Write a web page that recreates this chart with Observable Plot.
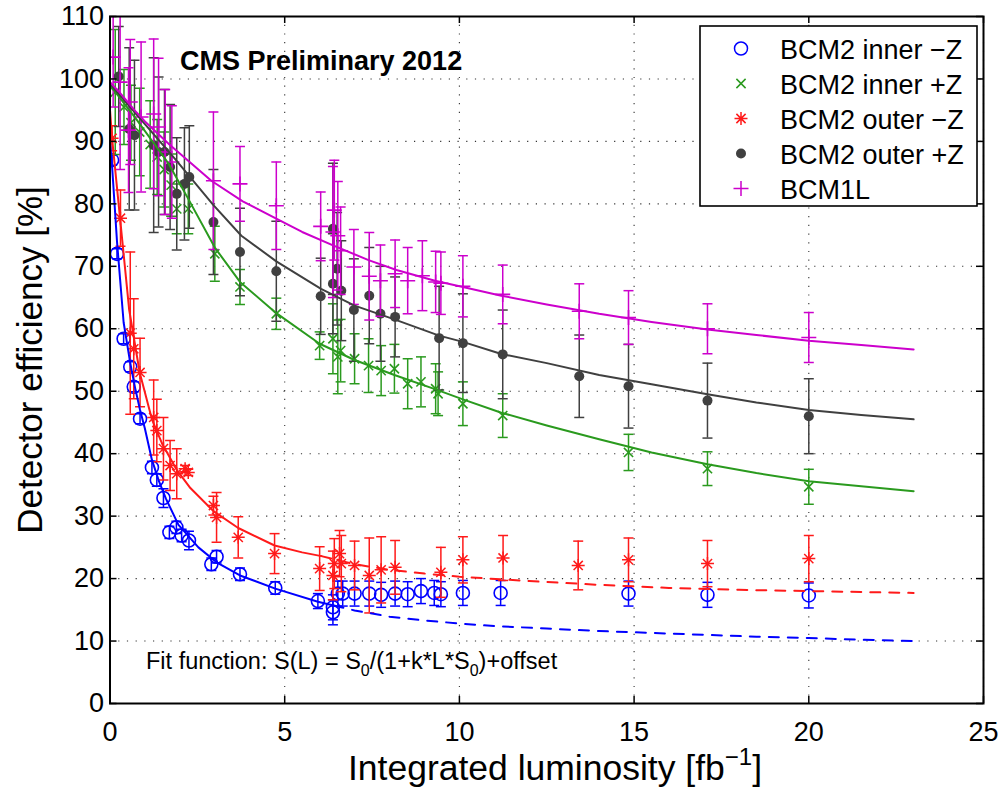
<!DOCTYPE html>
<html><head><meta charset="utf-8">
<script src="https://cdn.jsdelivr.net/npm/d3@7"></script>
<script src="https://cdn.jsdelivr.net/npm/@observablehq/plot@0.6"></script>
<style>
body{margin:0;background:#fff}
#chart{position:relative;width:1004px;height:787px}
</style>
</head><body><div id="chart"></div>
<script>
// ---------- data ----------
const xTicks = [0, 5, 10, 15, 20, 25];
const yTicks = [0, 10, 20, 30, 40, 50, 60, 70, 80, 90, 100, 110];
const seriesNames = ["BCM2 inner \u2212Z", "BCM2 inner +Z", "BCM2 outer \u2212Z", "BCM2 outer +Z", "BCM1L"];
const seriesColors = ["#0000ff", "#2a9a1e", "#ff1a1a", "#404040", "#cc00cc"];

// BCM2 inner -Z
const innerMinusZ_L = [0.06,0.2,0.39,0.58,0.68,0.86,1.2,1.34,1.53,1.7,1.9,2.05,2.26,2.9,3.05,3.72,4.73,5.95,6.38,6.38,6.52,6.66,7.0,7.42,7.76,8.16,8.52,8.9,9.28,9.47,10.1,11.18,14.84,17.1,20.0];
const innerMinusZ_V = [87,72,58.4,53.9,50.7,45.6,37.8,35.8,32.9,27.4,28.2,26.9,26.1,22.3,23.5,20.7,18.5,16.4,14.6,15.4,17.6,17.6,17.6,17.6,17.4,17.6,17.5,18.0,17.7,17.5,17.7,17.7,17.6,17.4,17.3];
const innerMinusZ_E = [0.8,0.8,0.8,0.8,0.8,0.8,1,1,1.5,1,1,1,1.5,1,1,1,1,1.2,2,2,2,2,2,2,2,2,2,2,2,2,2,2,2,2,2];

// BCM2 inner +Z
const innerPlusZ_L = [0.15,0.4,0.6,0.85,1.15,1.35,1.55,1.75,1.91,2.24,3.0,3.72,4.76,6.0,6.38,6.52,6.6,7.0,7.4,7.76,8.14,8.52,8.9,9.32,9.39,10.1,11.24,14.84,17.1,20.0];
const innerPlusZ_V = [97.9,95.5,93,91.5,89.5,87.5,85.5,83,79.2,79.2,72,66.7,62.4,57.3,58.4,55.5,56.5,55.2,54.1,53.3,53.6,51.2,51.5,50.4,49.6,48.0,46.1,40.2,37.6,34.7];
const innerPlusZ_E = [10,6,6,7,7,6,6,5,4,4,4.4,2.8,2.5,2.2,5.6,5.9,5,4,4.3,4,3.9,4,4,4,3.5,3.5,3.5,2.9,2.7,2.8];

// BCM2 outer -Z
const outerMinusZ_L = [0.06,0.3,0.58,0.68,0.86,1.25,1.34,1.53,1.72,1.91,2.15,2.24,2.96,3.05,3.67,4.71,6.0,6.38,6.42,6.57,6.62,7.0,7.42,7.76,8.16,9.47,10.1,11.25,13.4,14.84,17.1,20.0];
const outerMinusZ_V = [90.5,77.7,59.3,56.8,53.0,45.8,43.7,40.8,38.1,36.8,37.6,37.0,31.7,29.8,26.6,24.0,21.6,20.5,22.4,24.0,22.4,22.1,20.5,21.4,21.8,21.0,23.0,23.3,22.1,23.0,22.4,23.2];
const outerMinusZ_E = [2,4.5,13,8,5.5,6,5,5,4,4,0.5,0.5,1.5,4,3.3,3.2,3.5,3.9,4,3.7,4.5,3.9,6,5.3,4.3,4,3.7,3.6,3.9,3.5,3.7,3.7];

// BCM2 outer +Z
const outerPlusZ_L = [0.25,0.55,0.7,1.25,1.39,1.56,1.72,1.91,2.13,2.27,2.96,3.72,4.76,6.03,6.38,6.38,6.5,6.62,6.98,7.42,7.74,8.16,9.42,10.1,11.24,13.43,14.84,17.1,20.0];
const outerPlusZ_V = [100.4,92,91,89.4,88.3,88.3,85.9,81.6,83.2,84.3,77.1,72.3,69.2,65.2,67.2,76.0,69.6,66.1,63.0,65.3,62.4,61.9,58.5,57.7,55.9,52.4,50.8,48.5,46.0];
const outerPlusZ_E = [8,13,12,14,12,10,10,9,9,8.2,8.4,7,8,6.1,8,10.5,9,8,8.2,7.7,7.6,6.4,8.3,7.9,7.1,6.6,6.7,6,6];

// BCM1L
const bcm1l_L = [0.09,0.29,0.53,0.58,0.89,1.25,1.39,1.58,1.77,2.96,3.72,4.76,6.03,6.38,6.42,6.52,6.6,6.98,7.42,7.74,8.16,8.52,8.94,9.32,9.47,10.1,11.24,13.43,14.84,17.1,20.0];
const bcm1l_V = [103.5,99.5,91.8,96.3,93.9,94.4,92.3,88.3,86.7,83.7,83.2,79.7,76.4,75.5,79.0,74.9,72.5,69.9,68.4,67.7,68.8,67.7,68.5,67.5,67.3,66.8,65.5,62.8,61.8,60.0,58.6];
const bcm1l_E = [8,14,10,10,12,12,11,10,9,11,6,7,5.5,10.5,8,8.7,7,6,7,5.7,5.4,5.3,5.6,4.9,5,4.9,4.7,4.4,4.3,4.0,4.0];

// fit curves
const innerMinusZ_fitL = [0,0.06,0.2,0.39,0.58,0.72,0.86,1.0,1.2,1.4,1.6,1.96,2.53,3.05,3.72,4.73,5.95,6.4];
const innerMinusZ_fitV = [90,86,74,61,54.5,50.5,47,44,39,35.6,32.8,28.6,25,22.6,20.5,18.4,16.3,15.7];
const innerMinusZ_extL = [6.4,7,8,9,10,11,12.5,14,15.5,17,18.5,20,21.5,23];
const innerMinusZ_extV = [15.7,14.9,13.9,13.3,12.8,12.4,12.0,11.6,11.3,11.0,10.7,10.5,10.2,10.0];

const outerMinusZ_fitL = [0,0.06,0.3,0.55,0.85,1.2,1.5,1.9,2.3,2.96,3.67,4.71,5.5,6.05];
const outerMinusZ_fitV = [95,90.5,77,63,53,45.5,41.5,37.5,34.5,30.8,28.1,25.3,24.2,23.6];
const outerMinusZ_extL = [6.05,7,8,9,10,12,14,16,18,20,23];
const outerMinusZ_extV = [23.6,22.3,21.4,20.8,20.3,19.6,19.0,18.5,18.2,18.0,17.7];

const innerPlusZ_fitL = [0,0.72,1.67,2.24,3.0,3.72,4.76,6.0,7.0,8.14,9.32,10.1,11.18,12.5,14,15.5,17.1,18.5,20,21.5,23];
const innerPlusZ_fitV = [99,93.8,86.5,80.8,73,67.5,62.5,57.6,55.0,52.6,50.3,48.7,46.6,44.5,42.3,40.2,38.3,36.9,35.6,34.8,34.0];

const outerPlusZ_fitL = [0,0.9,1.86,2.96,3.76,4.76,6.04,7.0,8.14,9.42,10.1,11.18,12.5,14,15.5,17.1,18.5,20,21.5,23];
const outerPlusZ_fitV = [99.2,93.4,87.2,79.8,74.9,70.8,66.4,63.7,61.5,58.9,57.9,56.0,54.5,52.6,51.1,49.5,48.2,47.0,46.2,45.5];

const bcm1l_fitL = [0,0.25,0.7,1.0,1.7,2.9,3.8,4.8,5.5,6.4,7.4,8.2,9.3,10.1,11.2,12.5,14,15.5,17.1,18.5,20,21.5,23];
const bcm1l_fitV = [99.5,98,95,93.2,89.5,83.7,80.4,77.5,75.5,73.3,71.0,69.4,67.7,66.7,65.3,63.9,62.4,61.1,59.9,59.0,58.1,57.4,56.7];

// ---------- helpers ----------
const rows = (L, V, E) => L.map((l, i) => ({L: l, V: V[i], E: E ? E[i] : 0}));
const lineSym = (angles) => ({
  draw(ctx, size) {
    const r = Math.sqrt(size / Math.PI);
    for (const a of angles) {
      const dx = r * Math.cos(a), dy = r * Math.sin(a);
      ctx.moveTo(-dx, -dy); ctx.lineTo(dx, dy);
    }
  }
});
const capSymbol = lineSym([0]);
const plusSymbol = lineSym([0, Math.PI / 2]);
const timesSymbol = lineSym([Math.PI / 4, 3 * Math.PI / 4]);
const starSymbol = lineSym([0, Math.PI / 4, Math.PI / 2, 3 * Math.PI / 4]);

const W = 1004, H = 787;
const mL = 109.5, mR = 21, mT = 16, mB = 84;
const plotW = W - mL - mR, plotH = H - mT - mB;
const tickLenX = 7 * 25 / plotW, tickLenY = 7 * 110 / plotH;

const series = [
  {data: rows(innerMinusZ_L, innerMinusZ_V, innerMinusZ_E), marker: "circle"},
  {data: rows(innerPlusZ_L, innerPlusZ_V, innerPlusZ_E), marker: "times"},
  {data: rows(outerMinusZ_L, outerMinusZ_V, outerMinusZ_E), marker: "star"},
  {data: rows(outerPlusZ_L, outerPlusZ_V, outerPlusZ_E), marker: "dot"},
  {data: rows(bcm1l_L, bcm1l_V, bcm1l_E), marker: "plus"}
];
const fits = [
  {data: rows(innerMinusZ_fitL, innerMinusZ_fitV), c: 0, dash: null},
  {data: rows(innerMinusZ_extL, innerMinusZ_extV), c: 0, dash: "10,9"},
  {data: rows(innerPlusZ_fitL, innerPlusZ_fitV), c: 1, dash: null},
  {data: rows(outerMinusZ_fitL, outerMinusZ_fitV), c: 2, dash: null},
  {data: rows(outerMinusZ_extL, outerMinusZ_extV), c: 2, dash: "10,9"},
  {data: rows(outerPlusZ_fitL, outerPlusZ_fitV), c: 3, dash: null},
  {data: rows(bcm1l_fitL, bcm1l_fitV), c: 4, dash: null}
];

function markerMark(s, color) {
  const base = {x: "L", y: "V", clip: true};
  switch (s.marker) {
    case "circle": return Plot.dot(s.data, {...base, r: 6.5, stroke: color, fill: "none", strokeWidth: 1.6});
    case "times": return Plot.dot(s.data, {...base, symbol: timesSymbol, r: 6.5, stroke: color, fill: "none", strokeWidth: 1.6});
    case "star": return Plot.dot(s.data, {...base, symbol: starSymbol, r: 6.5, stroke: color, fill: "none", strokeWidth: 1.5});
    case "dot": return Plot.dot(s.data, {...base, r: 5, fill: color, stroke: "none"});
    case "plus": return Plot.dot(s.data, {...base, symbol: plusSymbol, r: 7.5, stroke: color, fill: "none", strokeWidth: 1.6});
  }
}

const marks = [
  Plot.gridX(xTicks, {stroke: "#333", strokeOpacity: 1, strokeWidth: 1.1, strokeDasharray: "1.2,7.5"}),
  Plot.gridY(yTicks, {stroke: "#333", strokeOpacity: 1, strokeWidth: 1.1, strokeDasharray: "1.2,7.5"})
];
series.forEach((s, i) => {
  const color = seriesColors[i];
  marks.push(
    Plot.ruleX(s.data, {x: "L", y1: d => d.V - d.E, y2: d => d.V + d.E, stroke: color, strokeWidth: 1.5, clip: true}),
    Plot.dot(s.data, {x: "L", y: d => d.V - d.E, symbol: capSymbol, r: 5, stroke: color, fill: "none", strokeWidth: 1.5, clip: true}),
    Plot.dot(s.data, {x: "L", y: d => d.V + d.E, symbol: capSymbol, r: 5, stroke: color, fill: "none", strokeWidth: 1.5, clip: true}),
    markerMark(s, color)
  );
});
fits.forEach(f => {
  marks.push(Plot.line(f.data, {x: "L", y: "V", stroke: seriesColors[f.c], strokeWidth: 2, strokeDasharray: f.dash, clip: true}));
});
marks.push(
  Plot.ruleX(xTicks, {x: d => d, y1: 0, y2: tickLenY, stroke: "black", strokeWidth: 1.5}),
  Plot.ruleX(xTicks, {x: d => d, y1: 110 - tickLenY, y2: 110, stroke: "black", strokeWidth: 1.5}),
  Plot.ruleY(yTicks, {y: d => d, x1: 0, x2: tickLenX, stroke: "black", strokeWidth: 1.5}),
  Plot.ruleY(yTicks, {y: d => d, x1: 25 - tickLenX, x2: 25, stroke: "black", strokeWidth: 1.5}),
  Plot.frame({stroke: "black", strokeWidth: 2}),
  Plot.axisX(xTicks, {tickSize: 0, tickPadding: 18, label: null, fontSize: 27}),
  Plot.axisY(yTicks, {tickSize: 0, tickPadding: 6, label: null, fontSize: 27})
);

const chart = Plot.plot({
  width: W, height: H,
  marginLeft: mL, marginRight: mR, marginTop: mT, marginBottom: mB,
  x: {domain: [0, 25]},
  y: {domain: [0, 110]},
  style: {fontFamily: '"Liberation Sans", Arial, sans-serif', fontSize: "27px", color: "black", background: "white"},
  marks
});
document.getElementById("chart").appendChild(chart);

// ---------- annotations ----------
const svg = d3.select(chart);
const font = '"Liberation Sans", Arial, sans-serif';

svg.append("text").attr("x", 180).attr("y", 70).attr("text-anchor", "start").attr("font-family", font).attr("font-size", 27)
  .attr("font-weight", "bold").attr("fill", "black").text("CMS Preliminary 2012");

const fit = svg.append("text").attr("x", 146).attr("y", 669).attr("text-anchor", "start").attr("font-family", font).attr("font-size", 23.5).attr("fill", "black");
fit.append("tspan").text("Fit function: S(L) = S");
fit.append("tspan").attr("font-size", 16).attr("dy", 7).text("0");
fit.append("tspan").attr("dy", -7).text("/(1+k*L*S");
fit.append("tspan").attr("font-size", 16).attr("dy", 7).text("0");
fit.append("tspan").attr("dy", -7).text(")+offset");

const xl = svg.append("text").attr("x", 555).attr("y", 780).attr("text-anchor", "middle")
  .attr("font-family", font).attr("font-size", 35.5).attr("fill", "black");
xl.append("tspan").text("Integrated luminosity [fb");
xl.append("tspan").attr("font-size", 24).attr("dy", -15).text("\u22121");
xl.append("tspan").attr("dy", 15).text("]");

svg.append("text").attr("transform", "translate(42,360) rotate(-90)").attr("text-anchor", "middle")
  .attr("font-family", font).attr("font-size", 35).attr("fill", "black").text("Detector efficiency [%]");

// legend
const lg = svg.append("g");
lg.append("rect").attr("x", 700).attr("y", 26).attr("width", 277).attr("height", 180)
  .attr("fill", "white").attr("stroke", "black").attr("stroke-width", 1.6);
const legSyms = [d3.symbolCircle, timesSymbol, starSymbol, d3.symbolCircle, plusSymbol];
const legR = [6.5, 6.5, 6.5, 5, 7.5];
seriesNames.forEach((name, i) => {
  const cy = 48.5 + i * 35;
  const p = d3.symbol().type(legSyms[i]).size(Math.PI * legR[i] * legR[i])();
  const path = lg.append("path").attr("d", p).attr("transform", `translate(741,${cy})`);
  if (i === 3) path.attr("fill", seriesColors[i]);
  else path.attr("fill", "none").attr("stroke", seriesColors[i]).attr("stroke-width", 1.5);
  lg.append("text").attr("x", 780).attr("y", cy + 10).attr("text-anchor", "start").attr("font-family", font).attr("font-size", 27)
    .attr("fill", "black").text(name);
});
</script>
</body></html>
